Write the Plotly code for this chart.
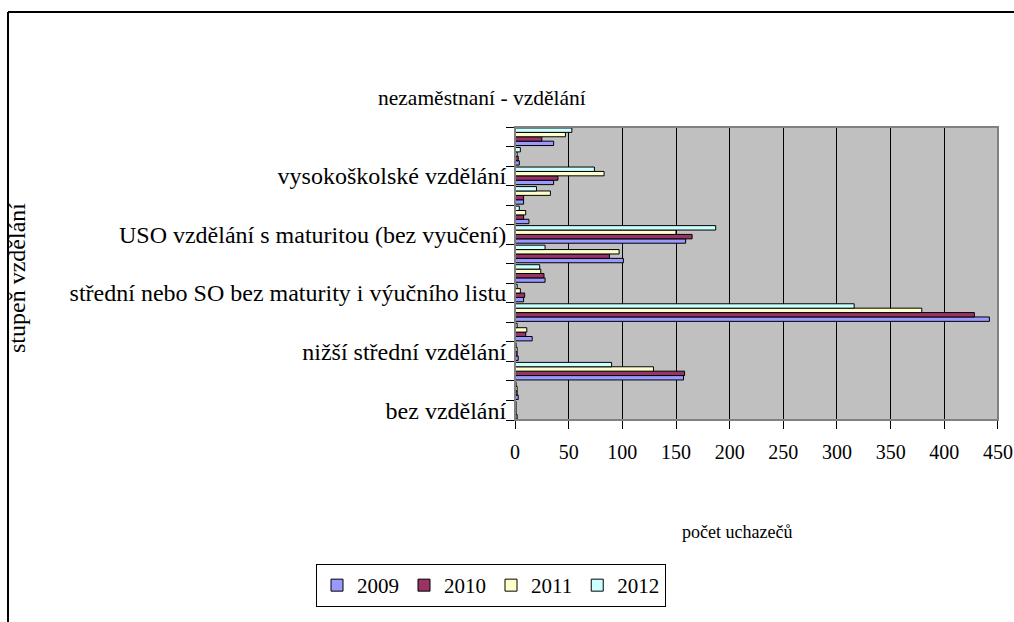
import plotly.graph_objects as go

# categories bottom -> top
categories = [
    "bez vzdělání",
    "neúplné základní vzdělání",
    "základní vzdělání",
    "nižší střední vzdělání",
    "nižší střední odborné vzdělání",
    "střední odborné vzdělání s výučním listem",
    "střední nebo SO bez maturity i výučního listu",
    "úplné střední vzdělání",
    "ÚSO vzdělání s vyučením i maturitou",
    "USO vzdělání s maturitou (bez vyučení)",
    "vyšší odborné vzdělání",
    "bakalářské vzdělání",
    "vysokoškolské vzdělání",
    "doktorské vzdělání",
    "neuvedeno",
]
shown_labels = [
    "bez vzdělání",
    "nižší střední vzdělání",
    "střední nebo SO bez maturity i výučního listu",
    "USO vzdělání s maturitou (bez vyučení)",
    "vysokoškolské vzdělání",
]
years = ["2009", "2010", "2011", "2012"]
v2009 = [2, 3, 157, 3, 16, 442, 8, 28, 101, 159, 13, 8, 36, 4, 36]
v2010 = [1, 2, 158, 2, 10, 428, 9, 27, 88, 165, 8, 8, 40, 3, 25]
v2011 = [1, 2, 129, 2, 11, 379, 5, 24, 97, 150, 10, 33, 83, 2, 47]
v2012 = [1, 1, 90, 1, 2, 316, 2, 23, 28, 187, 4, 20, 74, 5, 53]
series = [v2009, v2010, v2011, v2012]
colors = ["#9999FF", "#993366", "#FFFFCC", "#CCFFFF"]

FONT = "Times New Roman"

fig = go.Figure()
for name, vals, col in zip(years, series, colors):
    fig.add_trace(go.Bar(
        y=categories, x=vals, name=name, orientation="h",
        marker=dict(color=col, line=dict(color="black", width=1)),
    ))

W, H = 1014, 622
L, R, T, B = 515, 998, 127, 420

def px(x):
    return (x - L) / (R - L)

def py(y):
    return (B - y) / (B - T)

ticktext = [c if c in shown_labels else "" for c in categories]

fig.update_layout(
    width=W, height=H,
    margin=dict(l=L, r=W - R, t=T, b=H - B, autoexpand=False),
    paper_bgcolor="white",
    plot_bgcolor="#C0C0C0",
    barmode="group", bargap=0.1, bargroupgap=0,
    font=dict(family=FONT, size=20, color="black"),
    showlegend=True,
    legend=dict(
        orientation="h", x=px(491), xanchor="center", y=py(564), yanchor="top",
        bordercolor="black", borderwidth=1, bgcolor="white",
        font=dict(family=FONT, size=21), traceorder="normal",
        itemwidth=30,
    ),
    xaxis=dict(
        range=[0, 450.01], dtick=50, tick0=0, automargin=False,
        showgrid=True, gridcolor="black", gridwidth=1,
        showline=True, linecolor="black", linewidth=1,
        ticks="outside", ticklen=8, tickcolor="black",
        ticklabelstandoff=6, ticklabeloverflow="allow",
        tickfont=dict(family=FONT, size=20),
        zeroline=False, fixedrange=True,
    ),
    yaxis=dict(
        type="category", categoryorder="array", categoryarray=categories,
        tickvals=categories, ticktext=ticktext, automargin=False,
        tickson="boundaries", ticks="outside", ticklen=8, tickcolor="black",
        ticklabelstandoff=3,
        showline=True, linecolor="black", linewidth=1,
        showgrid=False, tickfont=dict(family=FONT, size=24),
        fixedrange=True,
    ),
    annotations=[
        dict(text="nezaměstnaní - vzdělání", x=px(482), y=py(98), xref="paper", yref="paper",
             showarrow=False, xanchor="center", yanchor="middle", font=dict(family=FONT, size=21.5)),
        dict(text="počet uchazečů", x=px(737), y=py(532), xref="paper", yref="paper",
             showarrow=False, xanchor="center", yanchor="middle", font=dict(family=FONT, size=18)),
        dict(text="stupeň vzdělání", x=px(17), y=py(278), xref="paper", yref="paper",
             showarrow=False, xanchor="center", yanchor="middle", textangle=-90,
             font=dict(family=FONT, size=24)),
    ],
    shapes=[
        dict(type="rect", xref="paper", yref="paper", x0=0, x1=1, y0=0, y1=1,
             line=dict(color="#808080", width=2), layer="above"),
        dict(type="line", xref="paper", yref="paper", x0=px(8), x1=px(8), y0=py(12), y1=py(640),
             line=dict(color="black", width=2)),
        dict(type="line", xref="paper", yref="paper", x0=px(8), x1=px(1020), y0=py(12), y1=py(12),
             line=dict(color="black", width=2)),
    ],
)

fig.write_html("out.html", config={"displayModeBar": False},
               post_script="document.body.style.margin='0';")
